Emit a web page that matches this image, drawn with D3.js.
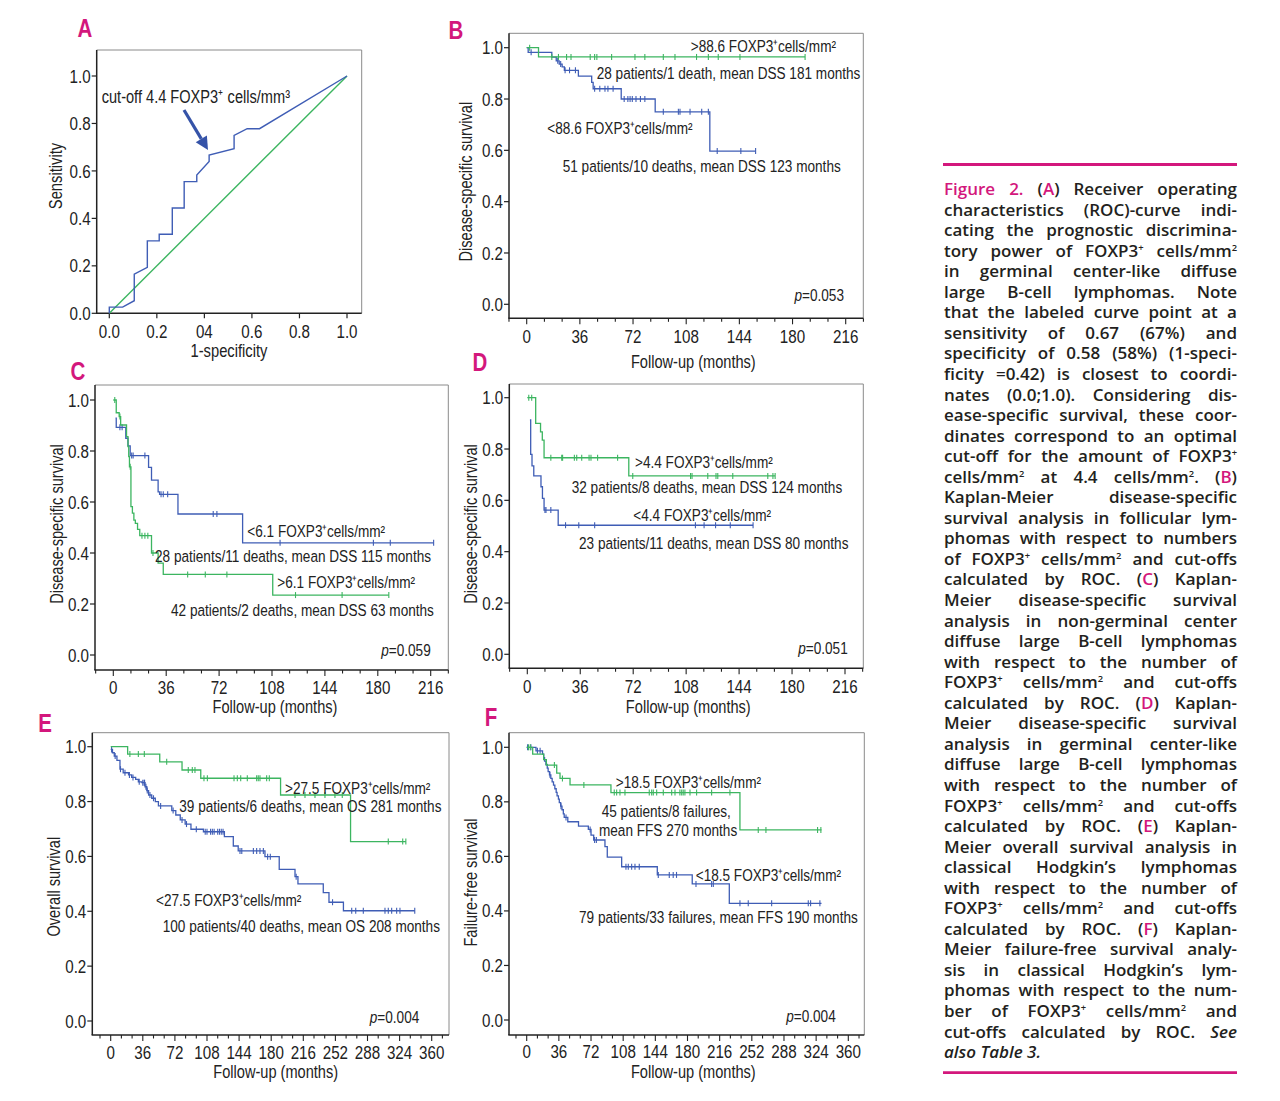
<!DOCTYPE html>
<html><head><meta charset="utf-8">
<script src="https://cdn.jsdelivr.net/npm/d3@7"></script>
<style>
body{margin:0;background:#fff;}
svg{display:block;}
</style></head><body>
<svg id="fig" width="1280" height="1101"></svg>
<script>
// ---------------- DATA ----------------
// Panel A: ROC curve
const rocFpr = [0,0,0.056,0.105,0.105,0.16,0.16,0.21,0.21,0.265,0.265,0.315,0.315,0.368,0.368,0.42,0.42,0.525,0.525,0.58,0.632,1];
const rocTpr = [0,0.026,0.026,0.053,0.165,0.194,0.305,0.305,0.333,0.333,0.444,0.444,0.555,0.555,0.583,0.64,0.667,0.694,0.75,0.778,0.778,1];
const rocTicks = ["0.0","0.2","04","0.6","0.8","1.0"];
const rocNote = "cut-off 4.4 FOXP3\u207A cells/mm\u00B3";

// Panel B
const bBlueSteps = [[0,1],[1,0.982],[17,0.963],[20,0.949],[22,0.936],[24,0.925],[25.5,0.912],[35,0.889],[44,0.865],[45,0.84],[64,0.80],[87,0.75],[124,0.597]];
const bBlueEnd = 155;
const bBlueCensor = [3,21,23,26,29,33,46,49.5,53,55,58.5,66,68.5,70,71.5,74,77,80,92.5,102.7,103.8,110.6,118.5,123,129,145,155];
const bGreenSteps = [[0,1],[8,0.964]];
const bGreenEnd = 188.5;
const bGreenCensor = [2,17,21.5,27,30,43,46,47.5,57.5,73.3,80,92.5,100.4,115,123,129.7,144.4,188.5];
const bNotes = [">88.6 FOXP3\u207Acells/mm\u00B2","28 patients/1 death, mean DSS 181 months","<88.6 FOXP3\u207Acells/mm\u00B2","51 patients/10 deaths, mean DSS 123 months"];
const bP = "0.053";

// Panel C
const cBlueSteps = [[1.5,0.929],[2,0.893],[8.5,0.85],[10,0.82],[11.5,0.782],[24,0.736],[26,0.686],[30.5,0.64],[31.5,0.63],[44,0.553],[88,0.44]];
const cBlueEnd = 218;
const cBlueCensor = [4.5,6,12.5,13.5,21.5,32.5,34,37,68,70.5,113.5,177,188.5,218];
const cGreenSteps = [[0,1],[2,0.95],[4,0.935],[5,0.902],[9,0.856],[10,0.817],[10.5,0.778],[11,0.738],[12,0.582],[13,0.556],[14,0.529],[15,0.516],[16.5,0.493],[18,0.468],[26,0.40],[30.5,0.36],[34,0.316],[108.5,0.235]];
const cGreenEnd = 187.5;
const cGreenCensor = [1,4.5,11.5,19.5,21.5,23.5,27,50.6,62.6,77.3,124,155.7,187.5];
const cNotes = ["<6.1 FOXP3\u207Acells/mm\u00B2","28 patients/11 deaths, mean DSS 115 months",">6.1 FOXP3\u207Acells/mm\u00B2","42 patients/2 deaths, mean DSS 63 months"];
const cP = "0.059";

// Panel D
const dBlueSteps = [[1.8,0.913],[2.3,0.779],[3.2,0.734],[4.4,0.695],[9.3,0.653],[10.3,0.608],[11.4,0.562],[21,0.503]];
const dBlueEnd = 153.5;
const dBlueCensor = [12,12.7,16,26,35,45.8,114.3,120.2,128,138,153.5];
const dGreenSteps = [[0,1],[5.7,0.90],[9,0.867],[10.2,0.835],[11.4,0.766],[69,0.695]];
const dGreenEnd = 168.5;
const dGreenCensor = [1,3,16,23.4,24,32,33.6,37,42,43.3,47.8,61.4,71.7,111,112,122.7,128.3,129.5,139.7,163.5,167,168.5];
const dNotes = [">4.4 FOXP3\u207Acells/mm\u00B2","32 patients/8 deaths, mean DSS 124 months","<4.4 FOXP3\u207Acells/mm\u00B2","23 patients/11 deaths, mean DSS 80 months"];
const dP = "0.051";

// Panel E
const eBlueSteps = [[0,0.99],[2,0.978],[4,0.966],[7,0.95],[10.4,0.918],[14,0.905],[20,0.897],[23.5,0.888],[28,0.881],[31,0.872],[35,0.869],[38.5,0.854],[40.5,0.84],[42.5,0.824],[46,0.812],[50,0.8],[53.5,0.784],[68.5,0.767],[73,0.751],[78,0.733],[83.5,0.718],[90,0.699],[104,0.69],[127.5,0.672],[137.5,0.638],[143,0.62],[173,0.599],[189,0.553],[206.7,0.526],[210,0.5],[238.4,0.468],[244.8,0.433],[261,0.402]];
const eBlueEnd = 341;
const eBlueCensor = [1,5,11,16,21,25,32,36,37.5,38,39.5,41,44,48,56,70,80,85,96,106,108,112,114,116,120,122,124,126,145,147,160,163.7,167.4,171.2,176,179,208,248.8,270.3,274.8,283.3,307.6,311.3,315.1,320.7,324.4,341];
const eGreenSteps = [[0,1],[19,0.973],[55,0.945],[80,0.915],[101,0.885],[190.5,0.824],[269,0.654]];
const eGreenEnd = 331;
const eGreenCensor = [21.5,31,37.7,62.8,87,91.5,94.5,104.6,108.4,138.3,142,145.8,153.2,163.7,165.5,167.4,174.9,177.9,206.7,217.9,229.1,240.3,251.5,259.7,311.3,327.5,331];
const eNotes = [">27.5 FOXP3\u207Acells/mm\u00B2","39 patients/6 deaths, mean OS 281 months","<27.5 FOXP3\u207Acells/mm\u00B2","100 patients/40 deaths, mean OS 208 months"];
const eP = "0.004";

// Panel F
const fBlueSteps = [[0,1],[10.4,0.987],[17.7,0.975],[19,0.962],[20,0.949],[21.5,0.937],[23,0.924],[24,0.911],[25.5,0.899],[27,0.886],[28.5,0.873],[30,0.861],[31.5,0.848],[33,0.835],[34,0.822],[35.5,0.81],[36.5,0.797],[38,0.784],[39.5,0.771],[41,0.756],[42,0.743],[46,0.727],[58,0.711],[69,0.699],[72,0.678],[75,0.66],[87.6,0.636],[90.2,0.597],[106.3,0.562],[146.2,0.532],[185.3,0.499],[226.8,0.428]];
const fBlueEnd = 330;
const fBlueCensor = [1,4.7,12,15,26,38.4,44,71,76,78,111.1,113.7,117.5,121.2,126,147.3,159.6,164,167.7,189.5,207,208.9,238.7,248,274.2,315.2,317.8,328.2];
const fGreenSteps = [[0,1],[6.7,0.975],[19,0.955],[22,0.935],[33.6,0.905],[37.3,0.886],[48.5,0.862],[94.3,0.834],[238.7,0.697]];
const fGreenEnd = 330;
const fGreenCensor = [2,4,31,40,64,98,100.7,104.4,110,137.2,139.9,141.7,145.5,152.9,162.3,166,171.5,173.5,175.2,177.1,182.8,190.2,207,227.5,259.2,267.8,325.6,329.3];
const fNotes = [">18.5 FOXP3\u207Acells/mm\u00B2","45 patients/8 failures,","mean FFS 270 months","<18.5 FOXP3\u207Acells/mm\u00B2","79 patients/33 failures, mean FFS 190 months"];
const fP = "0.004";

const yTickVals = [0,0.2,0.4,0.6,0.8,1.0];

const captionLines = [
 "{Figure} {2.} ({A}) Receiver operating",
 "characteristics (ROC)-curve indi-",
 "cating the prognostic discrimina-",
 "tory power of FOXP3^+ cells/mm^2",
 "in germinal center-like diffuse",
 "large B-cell lymphomas. Note",
 "that the labeled curve point at a",
 "sensitivity of 0.67 (67%) and",
 "specificity of 0.58 (58%) (1-speci-",
 "ficity =0.42) is closest to coordi-",
 "nates (0.0;1.0). Considering dis-",
 "ease-specific survival, these coor-",
 "dinates correspond to an optimal",
 "cut-off for the amount of FOXP3^+",
 "cells/mm^2 at 4.4 cells/mm^2. ({B})",
 "Kaplan-Meier disease-specific",
 "survival analysis in follicular lym-",
 "phomas with respect to numbers",
 "of FOXP3^+ cells/mm^2 and cut-offs",
 "calculated by ROC. ({C}) Kaplan-",
 "Meier disease-specific survival",
 "analysis in non-germinal center",
 "diffuse large B-cell lymphomas",
 "with respect to the number of",
 "FOXP3^+ cells/mm^2 and cut-offs",
 "calculated by ROC. ({D}) Kaplan-",
 "Meier disease-specific survival",
 "analysis in germinal center-like",
 "diffuse large B-cell lymphomas",
 "with respect to the number of",
 "FOXP3^+ cells/mm^2 and cut-offs",
 "calculated by ROC. ({E}) Kaplan-",
 "Meier overall survival analysis in",
 "classical Hodgkin\u2019s lymphomas",
 "with respect to the number of",
 "FOXP3^+ cells/mm^2 and cut-offs",
 "calculated by ROC. ({F}) Kaplan-",
 "Meier failure-free survival analy-",
 "sis in classical Hodgkin\u2019s lym-",
 "phomas with respect to the num-",
 "ber of FOXP3^+ cells/mm^2 and",
 "cut-offs calculated by ROC. _See_",
 "_also_ _Table_ _3._"
];

// ---------------- STYLE / LAYOUT ----------------
const PINK = "#d3177c";
const BLUE = "#3f5db5";
const GREEN = "#3cb560";
const INK = "#222";

const layoutA = {frame:[96.7,50,361.7,313.3], xr:[109.3,347], yr:[313.3,76], letter:[85,37],
  tickLabelY:338.3, xTitle:[229,357.5], yTitle:[55.5,176], note:[101.7,103], arrow:[[184,110],[208,150]]};

const kmPanels = [
 {id:"B", xMax:216, frame:[509,33.3,863.3,318.3], xr:[526.7,845.7], yr:[304.3,47.7], letter:[456,39],
  ticks:[-12,228], tickLabelY:343.3, xTitle:[693.3,368.3], yTitleText:"Disease-specific survival", yTitle:[465.5,181.7],
  series:[{steps:bBlueSteps,end:bBlueEnd,censor:bBlueCensor,color:BLUE},{steps:bGreenSteps,end:bGreenEnd,censor:bGreenCensor,color:GREEN}],
  notes:bNotes, notePos:[[690.7,51.7],[596.7,79.3],[547.3,134],[562.7,171.7]], p:bP, pPos:[844,300.7]},
 {id:"C", xMax:216, frame:[95,385,448.3,670], xr:[113.3,430.7], yr:[655,400], letter:[78,380.5],
  ticks:[-12,228], tickLabelY:694, xTitle:[275,713.3], yTitleText:"Disease-specific survival", yTitle:[57,524],
  series:[{steps:cBlueSteps,end:cBlueEnd,censor:cBlueCensor,color:BLUE},{steps:cGreenSteps,end:cGreenEnd,censor:cGreenCensor,color:GREEN}],
  notes:cNotes, notePos:[[247.3,536.7],[155,561.7],[277.3,587.7],[171,616]], p:cP, pPos:[430.7,656]},
 {id:"D", xMax:216, frame:[509.3,384,863.3,668.3], xr:[527.3,845], yr:[654.3,397.7], letter:[480,371.5],
  ticks:[-12,228], tickLabelY:693.3, xTitle:[688.3,712.7], yTitleText:"Disease-specific survival", yTitle:[471,524],
  series:[{steps:dBlueSteps,end:dBlueEnd,censor:dBlueCensor,color:BLUE},{steps:dGreenSteps,end:dGreenEnd,censor:dGreenCensor,color:GREEN}],
  notes:dNotes, notePos:[[635,468.3],[571.7,492.7],[633.3,521],[579,548.7]], p:dP, pPos:[847.7,654]},
 {id:"E", xMax:360, frame:[92.3,732.7,449,1035], xr:[110.7,431.7], yr:[1021,746.7], letter:[45,732.5],
  ticks:[-12,372], tickLabelY:1059.3, xTitle:[275.7,1078.3], yTitleText:"Overall survival", yTitle:[54,886.7],
  series:[{steps:eBlueSteps,end:eBlueEnd,censor:eBlueCensor,color:BLUE},{steps:eGreenSteps,end:eGreenEnd,censor:eGreenCensor,color:GREEN}],
  notes:eNotes, notePos:[[285,794],[179.3,811.7],[156,906],[162.7,931.7]], p:eP, pPos:[419.3,1022.7]},
 {id:"F", xMax:360, frame:[509,732.7,864.3,1035], xr:[526.7,848.3], yr:[1020,747.3], letter:[491,726.5],
  ticks:[-12,372], tickLabelY:1058.3, xTitle:[693.3,1078.3], yTitleText:"Failure-free survival", yTitle:[470.5,882.5],
  series:[{steps:fBlueSteps,end:fBlueEnd,censor:fBlueCensor,color:BLUE},{steps:fGreenSteps,end:fGreenEnd,censor:fGreenCensor,color:GREEN}],
  notes:fNotes, notePos:[[615.7,788.3],[601.7,817.3],[599,836],[695.7,880.7],[579,923.3]], p:fP, pPos:[835.7,1021.7]}
];

const caption = {x:944, w:293, y0:195, pitch:20.55, size:17, ruleTop:164.5, ruleBottom:1072.7};

// ---------------- HELPERS ----------------
const svg = d3.select("#fig");

// find a genuinely narrow face if one exists; otherwise emulate it
function measure(fam, st) {
  const t = svg.append("text").attr("font-family", fam).attr("font-size", 20).style("font-stretch", st).text("Follow-up (months) 0.8");
  const w = t.node().getComputedTextLength(); t.remove(); return w;
}
const baseW = measure('"Liberation Sans"', "normal");
let FONT = '"Liberation Sans",Arial,sans-serif', STRETCH = "normal", SX = 0.82;
for (const [fam, st] of [['"Liberation Sans Narrow"', "normal"], ['"Liberation Sans"', "condensed"], ['"Arial Narrow"', "normal"]]) {
  const w = measure(fam, st);
  if (w < baseW * 0.9 && w > baseW * 0.7) { FONT = fam + ",sans-serif"; STRETCH = st; SX = 1; break; }
}

function addRich(textSel, str) {
  let i = 0, buf = "", pink = false, ital = false;
  const style = t => { if (pink) t.attr("fill", PINK); if (ital) t.attr("font-style", "italic"); };
  const flush = () => { if (buf) { style(textSel.append("tspan").text(buf)); buf = ""; } };
  while (i < str.length) {
    const c = str[i];
    if (c === "{") { flush(); pink = true; }
    else if (c === "}") { flush(); pink = false; }
    else if (c === "_") { flush(); ital = !ital; }
    else if (c === "^") {
      flush();
      const s = textSel.append("tspan").attr("baseline-shift", "super").attr("font-size", "55%").text(str[i + 1]);
      style(s); i++;
    } else buf += c;
    i++;
  }
  flush();
  return textSel;
}

// chart text at x,y: condensed look = smaller font stretched vertically about the baseline
function ntext(g, x, y, size, anchor, str, rot) {
  const k = 1 / SX;
  const t = g.append("text").attr("x", x).attr("y", y)
    .attr("text-anchor", anchor || "start")
    .attr("font-family", FONT).style("font-stretch", STRETCH).attr("font-size", +(size * SX).toFixed(2)).attr("fill", INK).text(str);
  let tr = rot ? `rotate(-90,${x},${y})` : "";
  if (SX !== 1) tr += ` matrix(1,0,0,${k.toFixed(4)},0,${(y * (1 - k)).toFixed(3)})`;
  if (tr) t.attr("transform", tr.trim());
  t.property("__w", t.node().getComputedTextLength());
  return t;
}

function frame(g, f) {
  const [l, t, r, b] = f;
  g.append("line").attr("x1", l).attr("x2", r).attr("y1", t).attr("y2", t).attr("stroke", "#8a8a8a").attr("stroke-width", 1);
  g.append("line").attr("x1", r).attr("x2", r).attr("y1", t).attr("y2", b).attr("stroke", "#8a8a8a").attr("stroke-width", 1);
  g.append("line").attr("x1", l).attr("x2", l).attr("y1", t).attr("y2", b).attr("stroke", INK).attr("stroke-width", 1.5);
  g.append("line").attr("x1", l - 0.7).attr("x2", r).attr("y1", b).attr("y2", b).attr("stroke", INK).attr("stroke-width", 1.5);
}

function letter(txt, pos) {
  ntext(svg, pos[0], pos[1], 25, "middle", txt).attr("font-weight", "bold").attr("fill", PINK);
}

function yTicks(g, f, y) {
  const l = f[0];
  yTickVals.forEach(v => {
    g.append("line").attr("x1", l - 5).attr("x2", l).attr("y1", y(v)).attr("y2", y(v)).attr("stroke", INK).attr("stroke-width", 1.2);
    ntext(g, l - 6, y(v) + 6.6, 18.5, "end", d3.format(".1f")(v));
  });
}

// ---------------- PANEL A ----------------
(function () {
  const g = svg.append("g");
  const L = layoutA;
  const x = d3.scaleLinear().domain([0, 1]).range(L.xr);
  const y = d3.scaleLinear().domain([0, 1]).range(L.yr);
  frame(g, L.frame);
  const xt = d3.range(0, 1.0001, 0.2);
  xt.forEach((v, i) => {
    g.append("line").attr("x1", x(v)).attr("x2", x(v)).attr("y1", L.frame[3]).attr("y2", L.frame[3] + 5).attr("stroke", INK).attr("stroke-width", 1.2);
    ntext(g, x(v), L.tickLabelY, 18.5, "middle", rocTicks[i]);
  });
  yTicks(g, L.frame, y);
  ntext(g, L.yTitle[0] + 6.4, L.yTitle[1], 18, "middle", "Sensitivity", true);
  ntext(g, L.xTitle[0], L.xTitle[1], 18, "middle", "1-specificity");
  // reference diagonal
  g.append("path").attr("d", d3.line().x(d => x(d)).y(d => y(d))([0, 1]))
    .attr("fill", "none").attr("stroke", GREEN).attr("stroke-width", 1.4);
  const pts = rocFpr.map((v, i) => [v, rocTpr[i]]);
  g.append("path").attr("d", d3.line().x(d => x(d[0])).y(d => y(d[1]))(pts))
    .attr("fill", "none").attr("stroke", BLUE).attr("stroke-width", 1.4);
  ntext(g, L.note[0], L.note[1], 17.8, "start", rocNote);
  // arrow
  const [a0, a1] = L.arrow;
  const ang = Math.atan2(a1[1] - a0[1], a1[0] - a0[0]);
  const hl = 13, hw = 6.5;
  const bx = a1[0] - hl * Math.cos(ang), by = a1[1] - hl * Math.sin(ang);
  g.append("line").attr("x1", a0[0]).attr("y1", a0[1]).attr("x2", bx).attr("y2", by)
    .attr("stroke", "#3553a8").attr("stroke-width", 3.2);
  g.append("path").attr("d", `M${a1[0]},${a1[1]} L${bx + hw * Math.sin(ang)},${by - hw * Math.cos(ang)} L${bx - hw * Math.sin(ang)},${by + hw * Math.cos(ang)} Z`)
    .attr("fill", "#3553a8");
  letter("A", L.letter);
})();

// ---------------- KM PANELS ----------------
function survAt(steps, t) {
  let s = steps[0][1];
  for (const st of steps) { if (st[0] <= t) s = st[1]; }
  return s;
}

kmPanels.forEach(P => {
  const g = svg.append("g");
  const x = d3.scaleLinear().domain([0, P.xMax]).range(P.xr);
  const y = d3.scaleLinear().domain([0, 1]).range(P.yr);
  frame(g, P.frame);
  const b = P.frame[3];
  for (let v = P.ticks[0]; v <= P.ticks[1]; v += 12) {
    const major = v >= 0 && v <= P.xMax && v % 36 === 0;
    g.append("line").attr("x1", x(v)).attr("x2", x(v)).attr("y1", b).attr("y2", b + (major ? 6 : 3.5))
      .attr("stroke", INK).attr("stroke-width", 1.1);
    if (major) ntext(g, x(v), P.tickLabelY, 18.5, "middle", String(v));
  }
  yTicks(g, P.frame, y);
  ntext(g, P.yTitle[0] + 6.4, P.yTitle[1], 17.8, "middle", P.yTitleText, true);
  ntext(g, P.xTitle[0], P.xTitle[1], 17.8, "middle", "Follow-up (months)");

  P.series.forEach(S => {
    const pts = [S.steps[0]];
    for (let i = 1; i < S.steps.length; i++) {
      pts.push([S.steps[i][0], S.steps[i - 1][1]]);
      pts.push(S.steps[i]);
    }
    pts.push([S.end, S.steps[S.steps.length - 1][1]]);
    g.append("path").attr("d", d3.line().x(d => x(d[0])).y(d => y(d[1]))(pts))
      .attr("fill", "none").attr("stroke", S.color).attr("stroke-width", 1.3);
    g.selectAll(null).data(S.censor).enter().append("line")
      .attr("x1", d => x(d)).attr("x2", d => x(d))
      .attr("y1", d => y(survAt(S.steps, d)) - 3).attr("y2", d => y(survAt(S.steps, d)) + 3)
      .attr("stroke", S.color).attr("stroke-width", 1.1);
  });

  P.notes.forEach((n, i) => {
    const p = P.notePos[i];
    ntext(g, p[0], p[1], 16.6, "start", n);
  });
  // p-value: italic p + "=value", right aligned
  const rest = ntext(g, P.pPos[0], P.pPos[1], 16.6, "end", "=" + P.p);
  ntext(g, P.pPos[0] - rest.property("__w"), P.pPos[1], 16.6, "end", "p").attr("font-style", "italic");
  letter(P.id, P.letter);
});

// ---------------- CAPTION ----------------
(function () {
  const C = caption;
  const g = svg.append("g").attr("font-family", '"Open Sans","Noto Sans",sans-serif')
    .attr("font-weight", 600).attr("font-size", C.size).attr("fill", "#231f20");
  g.append("line").attr("x1", C.x - 1).attr("x2", C.x + C.w).attr("y1", C.ruleTop).attr("y2", C.ruleTop).attr("stroke", PINK).attr("stroke-width", 2.8);
  g.append("line").attr("x1", C.x - 1).attr("x2", C.x + C.w).attr("y1", C.ruleBottom).attr("y2", C.ruleBottom).attr("stroke", PINK).attr("stroke-width", 2.8);
  const spaceW = C.size * 0.26;
  captionLines.forEach((line, i) => {
    const yy = C.y0 + i * C.pitch;
    const words = line.split(" ");
    const nodes = words.map(w => addRich(g.append("text").attr("x", C.x).attr("y", yy), w));
    const widths = nodes.map(n => n.node().getComputedTextLength());
    const total = d3.sum(widths);
    const last = i === captionLines.length - 1;
    let gap = last ? spaceW : (C.w - total) / Math.max(1, words.length - 1);
    let k = 1;
    const minGap = C.size * 0.2;
    if (gap < minGap) { k = (C.w - minGap * (words.length - 1)) / total; gap = minGap; }
    let xx = C.x;
    nodes.forEach((n, j) => {
      n.attr("x", xx.toFixed(2));
      if (k < 1) n.attr("textLength", (widths[j] * k).toFixed(2)).attr("lengthAdjust", "spacingAndGlyphs");
      xx += widths[j] * k + gap;
    });
  });
})();
</script>
</body></html>
